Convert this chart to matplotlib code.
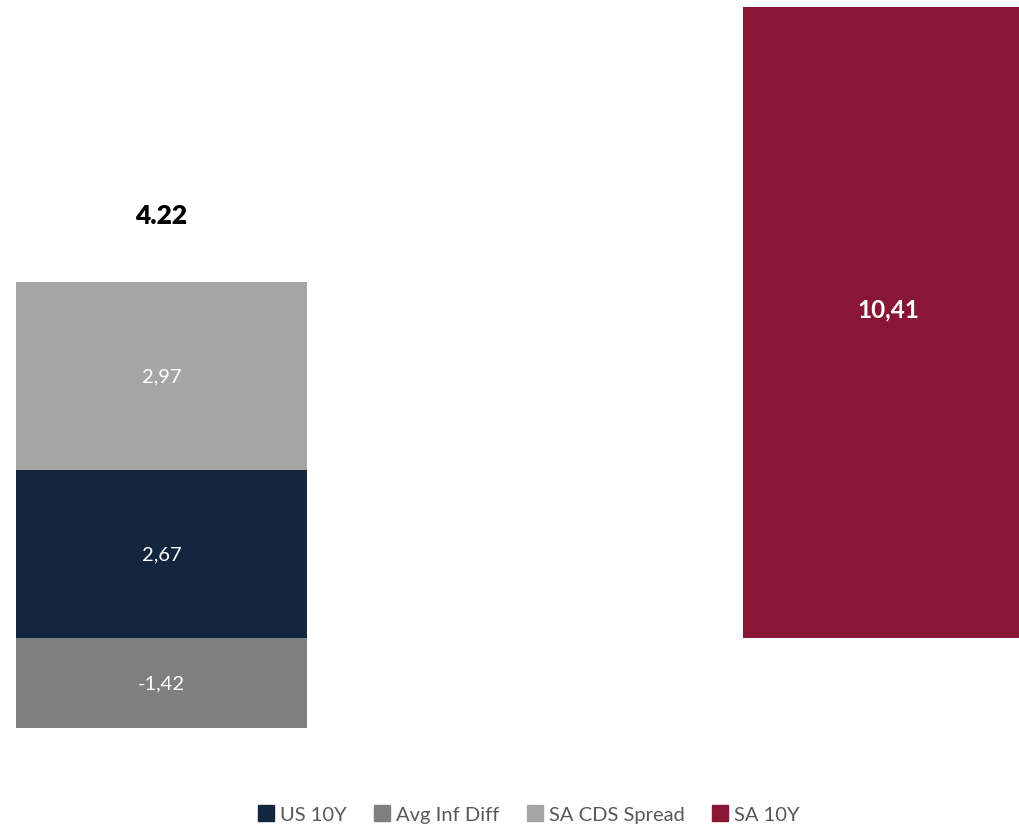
import matplotlib
matplotlib.use("Agg")
import matplotlib.pyplot as plt
from matplotlib.patches import Patch

plt.rcParams['font.family'] = ['Lato', 'DejaVu Sans']

categories = ["Model", "Actual"]
us10y = [2.67, 0.0]
avg_inf_diff = [-1.42, 0.0]
sa_cds = [2.97, 0.0]
sa10y = [0.0, 10.41]
total_label = "4.22"

c_us = "#12263F"
c_inf = "#7F7F7F"
c_cds = "#A5A5A5"
c_sa = "#891635"

W, H = 1020, 829
fig = plt.figure(figsize=(W / 100, H / 100), dpi=100)
# axes: top at y=7px (value 10), bottom at y=765px (value -2)
ax = fig.add_axes([0, 1 - 765.5 / H, 1, (765.5 - 7.5) / H])
x = [0, 1]
bw = 0.4

ax.bar(x[0], us10y[0], width=bw, color=c_us, label="US 10Y")
ax.bar(x[0], avg_inf_diff[0], width=bw, color=c_inf, label="Avg Inf Diff")
ax.bar(x[0], sa_cds[0], bottom=us10y[0], width=bw, color=c_cds, label="SA CDS Spread")
ax.bar(x[1], sa10y[1], width=bw, color=c_sa, label="SA 10Y")

ax.set_xlim(-161.5 / 727, (1020 - 161.5) / 727)
ax.set_ylim(-2, 10)
ax.axis("off")

fs = 14.5
ax.text(x[0], us10y[0] / 2, f"{us10y[0]:.2f}".replace(".", ","), ha="center", va="center", color="white", fontsize=fs)
ax.text(x[0], avg_inf_diff[0] / 2, f"{avg_inf_diff[0]:.2f}".replace(".", ","), ha="center", va="center", color="white", fontsize=fs)
ax.text(x[0], us10y[0] + sa_cds[0] / 2, f"{sa_cds[0]:.2f}".replace(".", ","), ha="center", va="center", color="white", fontsize=fs)
ax.text(x[1], sa10y[1] / 2, f"{sa10y[1]:.2f}".replace(".", ","), ha="center", va="center", color="white", fontsize=17.5, fontweight="bold")
top = us10y[0] + sa_cds[0]
ax.text(x[0], top + 1.06, total_label, ha="center", va="center", color="black", fontsize=19, fontweight="heavy")

handles = [Patch(color=c_us, label="US 10Y"), Patch(color=c_inf, label="Avg Inf Diff"),
           Patch(color=c_cds, label="SA CDS Spread"), Patch(color=c_sa, label="SA 10Y")]
leg = fig.legend(handles=handles, loc="center", bbox_to_anchor=(529 / W, 1 - 815 / H), ncol=4,
                 frameon=False, fontsize=14.5, handlelength=0.8, handleheight=0.8, handletextpad=0.3,
                 columnspacing=1.35, labelcolor="#595959")

fig.savefig("out.png", dpi=100)
